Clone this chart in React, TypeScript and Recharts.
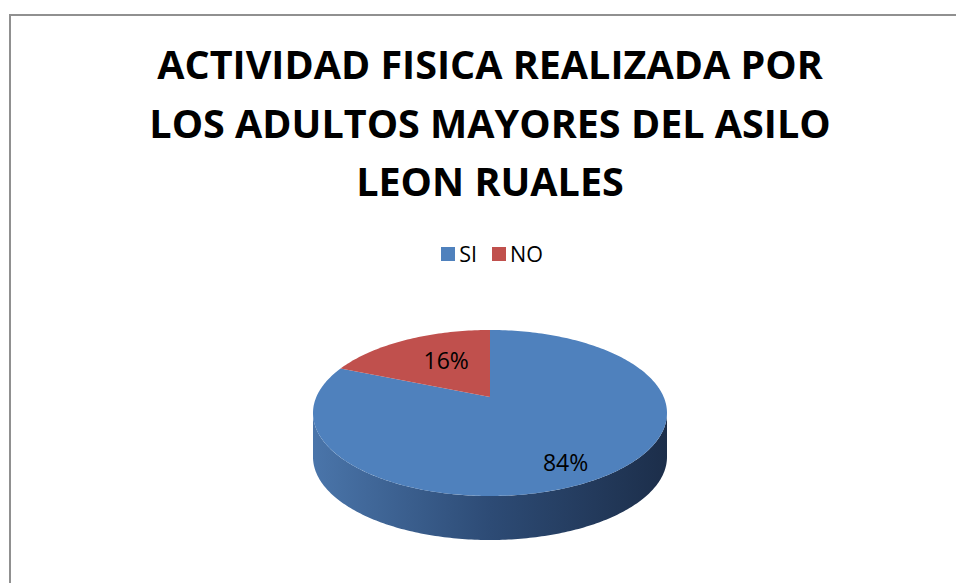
import React from 'react';
import { PieChart, Pie, Cell, Legend } from 'recharts';

const categorias = ['SI', 'NO'];
const porcentajes = [84, 16];
const colores = ['#4F81BD', '#C0504D'];
const titulo = ['ACTIVIDAD FISICA REALIZADA POR', 'LOS ADULTOS MAYORES DEL ASILO', 'LEON RUALES'];

const datos = categorias.map((name, i) => ({ name, value: porcentajes[i] }));

const FUENTE = "'Open Sans', 'Noto Sans', sans-serif";
// elipse de la cara superior y profundidad del "3D"
const RX = 177;
const RY = 83;
const PROFUNDIDAD = 44;
const ELEVACION = 16;
const RAD = Math.PI / 180;

const punto = (cx: number, cy: number, ang: number, dy = 0) => [
  cx + RX * Math.cos(ang * RAD),
  cy - RY * Math.sin(ang * RAD) + dy,
];

const arco = (cx: number, cy: number, desde: number, hasta: number, dy = 0) => {
  const pasos = Math.max(2, Math.ceil(Math.abs(hasta - desde)));
  const pts: number[][] = [];
  for (let k = 0; k <= pasos; k++) {
    pts.push(punto(cx, cy, desde + ((hasta - desde) * k) / pasos, dy));
  }
  return pts;
};

const aPath = (pts: number[][]) =>
  'M' + pts.map((p) => `${p[0].toFixed(2)},${p[1].toFixed(2)}`).join('L') + 'Z';

const renderPorcion = (props: any) => {
  const { cx, cy, startAngle, endAngle, percent, index } = props;
  const mid = (startAngle + endAngle) / 2;

  // lateral visible (mitad frontal de la elipse)
  const lo = Math.min(startAngle, endAngle);
  const hi = Math.max(startAngle, endAngle);
  const lados: string[] = [];
  for (let k = -2; k <= 1; k++) {
    const a = Math.max(lo, -180 + 360 * k);
    const b = Math.min(hi, 360 * k);
    if (b > a) {
      const arriba = arco(cx, cy, a, b);
      const abajo = arco(cx, cy, b, a, PROFUNDIDAD);
      lados.push(aPath([...arriba, ...abajo]));
    }
  }

  const tapa = aPath([[cx, cy - ELEVACION], ...arco(cx, cy, startAngle, endAngle)]);

  const lx = cx + RX * 0.09 + 0.7 * RX * Math.cos(mid * RAD);
  const ly = cy - 2 - 0.7 * RY * Math.sin(mid * RAD);

  return (
    <g>
      <defs>
        <linearGradient id={`lado-${index}`} x1="0" y1="0" x2="1" y2="0">
          <stop offset="0%" stopColor="#4A75AA" />
          <stop offset="50%" stopColor="#2D4B75" />
          <stop offset="100%" stopColor="#1C2E4A" />
        </linearGradient>
      </defs>
      {lados.map((d, i) => (
        <path key={i} d={d} fill={`url(#lado-${index})`} stroke="none" />
      ))}
      <path d={tapa} fill={colores[index]} stroke="none" />
      <text
        x={lx}
        y={ly}
        textAnchor="middle"
        dominantBaseline="central"
        fontFamily={FUENTE}
        fontSize={23}
        fill="#000"
      >
        {`${Math.round(percent * 100)}%`}
      </text>
    </g>
  );
};

const renderLeyenda = (props: any) => {
  const items = [...(props.payload || [])].sort(
    (a: any, b: any) => categorias.indexOf(a.value) - categorias.indexOf(b.value)
  );
  return (
    <div style={{ display: 'flex', justifyContent: 'center', alignItems: 'center', height: 22 }}>
      {items.map((entry: any, i: number) => (
        <div key={entry.value} style={{ display: 'flex', alignItems: 'center', marginRight: i < items.length - 1 ? 15 : 0 }}>
          <span
            style={{
              display: 'inline-block',
              width: 14,
              height: 14,
              background: colores[categorias.indexOf(entry.value)],
              marginRight: 4,
            }}
          />
          <span style={{ fontFamily: FUENTE, fontSize: 21.5, lineHeight: '22px', color: '#000' }}>{entry.value}</span>
        </div>
      ))}
    </div>
  );
};

export default function App() {
  return (
    <div style={{ position: 'fixed', left: 0, top: 0, width: 956, height: 583, overflow: 'hidden', background: '#fff' }}>
      <div
        style={{
          position: 'absolute',
          left: 9,
          top: 14,
          width: 962,
          height: 620,
          border: '2px solid #909090',
          boxSizing: 'border-box',
        }}
      />
      <div style={{ position: 'absolute', left: 0, top: 0 }}>
        <PieChart width={956} height={583} margin={{ top: 0, right: 0, bottom: 0, left: 0 }}>
          <Legend
            verticalAlign="middle"
            layout="horizontal"
            content={renderLeyenda}
            wrapperStyle={{ top: 243, left: 0, width: 984 }}
          />
          <Pie
            data={datos}
            dataKey="value"
            nameKey="name"
            cx={490}
            cy={413}
            outerRadius={RX}
            startAngle={90}
            endAngle={-270}
            stroke="none"
            label={renderPorcion}
            labelLine={false}
            isAnimationActive={false}
          >
            {datos.map((d, i) => (
              <Cell key={d.name} fill={colores[i]} fillOpacity={0} />
            ))}
          </Pie>
        </PieChart>
      </div>
      <div
        style={{
          position: 'absolute',
          left: 9,
          top: 35,
          width: 962,
          textAlign: 'center',
          fontFamily: FUENTE,
          fontWeight: 700,
          fontSize: 39.5,
          lineHeight: '58.5px',
          color: '#000',
        }}
      >
        {titulo.map((t) => (
          <div key={t}>{t}</div>
        ))}
      </div>
    </div>
  );
}
